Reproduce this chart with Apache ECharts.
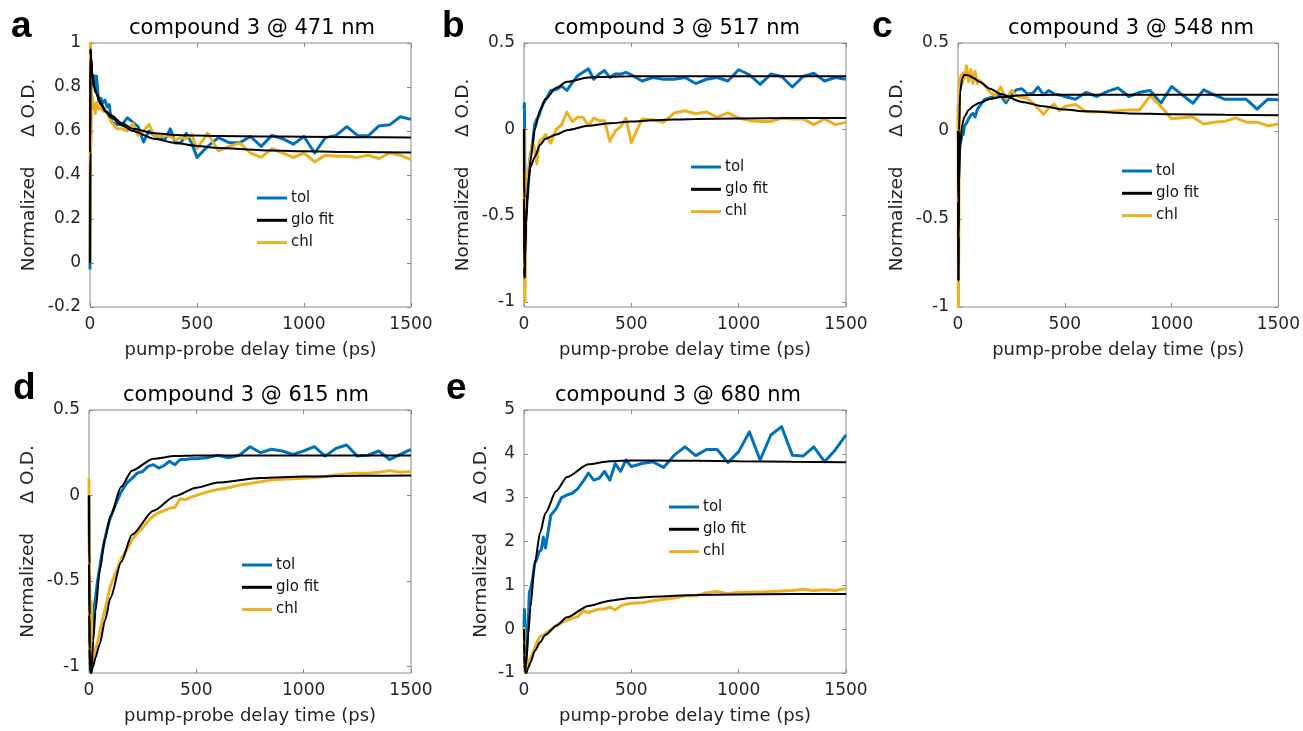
<!DOCTYPE html>
<html>
<head>
<meta charset="utf-8">
<script src="https://cdn.jsdelivr.net/npm/echarts@6/dist/echarts.min.js"></script>
<style>html,body{margin:0;padding:0;background:#fff;}#chart{width:1303px;height:731px;}</style>
</head>
<body>
<div id="chart"></div>
<script>
// ---------- DATA ----------
// delay times (ps) of the measured traces
const T = [0,2,4,6,8,10,15,20,25,30,40,50,60,70,80,90,100,
  125,150,175,200,225,250,275,300,325,350,375,400,425,450,475,500,
  550,600,650,700,750,800,850,900,950,1000,1050,1100,1150,1200,1250,1300,1350,1400,1450,1500];
// delay times (ps) of the global-fit curves
const TF = [0,1,2,3,5,10,20,30,50,75,100,150,200,300,400,500,600,800,1000,1250,1500];

const panelTitles = ['compound 3 @ 471 nm','compound 3 @ 517 nm','compound 3 @ 548 nm','compound 3 @ 615 nm','compound 3 @ 680 nm'];
const panelLetters = ['a','b','c','d','e'];
const legendNames = ['tol','glo fit','chl'];
const xTicks = [0,500,1000,1500];
const yTicksA = [-0.2,0,0.2,0.4,0.6,0.8,1];
const yTicksB = [-1,-0.5,0,0.5];
const yTicksC = [-1,-0.5,0,0.5];
const yTicksD = [-1,-0.5,0,0.5];
const yTicksE = [-1,0,1,2,3,4,5];

// (a) 471 nm
const a_tol = [-0.03,0.4,0.93,0.9,0.82,0.86,0.8,0.85,0.78,0.85,0.74,0.75,0.73,0.74,0.71,0.72,0.64,
  0.63,0.63,0.66,0.64,0.62,0.55,0.60,0.58,0.57,0.56,0.61,0.545,0.545,0.59,0.545,0.48,
  0.53,0.57,0.547,0.547,0.575,0.53,0.58,0.565,0.54,0.575,0.50,0.57,0.58,0.62,0.58,0.578,0.623,0.628,0.665,0.653];
const a_chl = [0.0,1.0,0.53,0.8,0.72,0.76,0.70,0.72,0.68,0.73,0.70,0.71,0.69,0.70,0.68,0.66,0.64,
  0.61,0.61,0.60,0.635,0.58,0.60,0.63,0.58,0.575,0.58,0.575,0.56,0.57,0.565,0.585,0.52,
  0.59,0.51,0.53,0.545,0.50,0.48,0.52,0.50,0.48,0.50,0.46,0.49,0.485,0.485,0.48,0.49,0.475,0.50,0.49,0.47];
const a_fit_tol = [0,0.5,0.95,0.97,0.93,0.86,0.80,0.77,0.73,0.69,0.67,0.635,0.61,0.59,0.582,0.579,0.577,0.575,0.574,0.572,0.571];
const a_fit_chl = [0,0.5,0.95,0.97,0.93,0.86,0.80,0.77,0.72,0.685,0.66,0.625,0.60,0.565,0.545,0.532,0.523,0.513,0.508,0.504,0.502];

// (b) 517 nm
const b_tol = [0.12,0.15,-0.3,-0.55,-0.45,-0.35,-0.4,-0.33,-0.2,-0.15,-0.08,0.03,0.06,0.08,0.12,0.15,0.17,
  0.225,0.23,0.25,0.225,0.27,0.31,0.33,0.35,0.29,0.32,0.34,0.30,0.32,0.32,0.33,0.316,
  0.28,0.30,0.29,0.29,0.30,0.265,0.29,0.30,0.28,0.345,0.316,0.26,0.32,0.306,0.245,0.306,0.325,0.28,0.30,0.29];
const b_chl = [0.0,-0.7,-1.0,-0.85,-0.6,-0.4,-0.25,-0.27,-0.2,-0.16,-0.07,-0.12,-0.2,-0.08,-0.06,-0.05,-0.03,
  -0.08,0.0,0.025,0.10,0.045,0.07,0.07,0.02,0.065,0.05,0.05,-0.07,-0.01,0.015,0.065,-0.077,
  0.06,0.055,0.04,0.095,0.107,0.09,0.10,0.07,0.095,0.065,0.05,0.045,0.045,0.065,0.06,0.06,0.027,0.06,0.027,0.04];
const b_fit_tol = [0,-0.4,-0.8,-0.86,-0.75,-0.55,-0.32,-0.18,0.0,0.11,0.175,0.24,0.275,0.30,0.305,0.307,0.308,0.308,0.308,0.308,0.308];
const b_fit_chl = [0,-0.4,-0.8,-0.86,-0.7,-0.5,-0.3,-0.22,-0.16,-0.09,-0.055,-0.03,-0.005,0.02,0.035,0.045,0.052,0.06,0.063,0.065,0.065];

// (c) 548 nm
const c_tol = [0.0,-0.05,-0.2,-0.15,-0.1,-0.08,-0.05,0.0,-0.02,0.03,0.045,0.07,0.09,0.10,0.08,0.12,0.14,
  0.18,0.19,0.20,0.20,0.16,0.21,0.235,0.24,0.21,0.215,0.25,0.205,0.23,0.21,0.205,0.196,
  0.18,0.22,0.196,0.225,0.244,0.196,0.22,0.23,0.158,0.253,0.205,0.158,0.234,0.205,0.18,0.18,0.18,0.124,0.18,0.177];
const c_chl = [0.15,-1.0,-0.5,0.2,0.3,0.28,0.32,0.27,0.33,0.30,0.37,0.28,0.35,0.27,0.34,0.27,0.29,
  0.26,0.22,0.20,0.25,0.18,0.23,0.20,0.19,0.185,0.16,0.13,0.095,0.13,0.15,0.115,0.14,
  0.15,0.11,0.11,0.11,0.115,0.12,0.12,0.20,0.14,0.07,0.075,0.08,0.04,0.05,0.055,0.075,0.05,0.05,0.03,0.04];
const c_fit_tol = [0,-0.4,-0.85,-0.6,-0.3,-0.08,0.04,0.08,0.12,0.145,0.16,0.182,0.193,0.203,0.205,0.206,0.206,0.206,0.206,0.206,0.206];
const c_fit_chl = [0,-0.4,-0.85,-0.6,0.0,0.22,0.30,0.32,0.315,0.30,0.28,0.24,0.21,0.165,0.14,0.122,0.112,0.10,0.095,0.092,0.09];

// (d) 615 nm
const d_tol = [0.0,-0.3,-0.8,-1.0,-1.02,-0.98,-0.85,-0.75,-0.65,-0.6,-0.5,-0.42,-0.34,-0.28,-0.22,-0.17,-0.13,
  -0.05,0.02,0.07,0.10,0.13,0.14,0.17,0.18,0.16,0.175,0.20,0.18,0.21,0.21,0.215,0.215,
  0.22,0.235,0.22,0.235,0.285,0.25,0.27,0.26,0.24,0.26,0.285,0.23,0.275,0.295,0.23,0.235,0.26,0.21,0.24,0.27];
const d_chl = [0.1,-0.4,-0.85,-1.0,-0.7,-0.62,-1.0,-0.98,-0.93,-0.9,-0.86,-0.8,-0.74,-0.69,-0.64,-0.58,-0.53,
  -0.45,-0.37,-0.32,-0.26,-0.22,-0.19,-0.15,-0.12,-0.10,-0.09,-0.075,-0.07,-0.02,-0.025,-0.01,0.0,
  0.02,0.035,0.045,0.06,0.07,0.08,0.09,0.095,0.098,0.10,0.105,0.11,0.12,0.125,0.13,0.13,0.135,0.145,0.135,0.14];
const d_fit_tol = [0,-0.4,-0.7,-0.9,-1.0,-1.04,-0.85,-0.68,-0.44,-0.25,-0.12,0.05,0.145,0.215,0.23,0.233,0.233,0.233,0.233,0.233,0.233];
const d_fit_chl = [0,-0.4,-0.7,-0.9,-1.0,-1.04,-1.0,-0.95,-0.87,-0.73,-0.6,-0.39,-0.23,-0.09,-0.005,0.045,0.075,0.102,0.11,0.115,0.117];

// (e) 680 nm
const e_tol = [0.0,0.45,0.1,-0.5,-0.9,-0.6,-0.3,0.2,0.85,0.9,1.15,1.5,1.6,1.77,1.8,2.1,1.85,
  2.6,2.75,3.0,3.06,3.1,3.2,3.37,3.56,3.4,3.44,3.6,3.4,3.78,3.6,3.86,3.71,
  3.78,3.82,3.69,3.97,4.16,3.96,4.1,4.1,3.8,4.05,4.5,3.86,4.43,4.62,3.97,3.95,4.16,3.82,4.09,4.43];
const e_chl = [0.05,-0.3,-0.8,-1.0,-0.98,-0.95,-0.85,-0.8,-0.72,-0.68,-0.55,-0.42,-0.3,-0.2,-0.15,-0.14,-0.1,
  -0.02,0.08,0.15,0.2,0.25,0.28,0.42,0.38,0.42,0.46,0.46,0.5,0.44,0.53,0.57,0.59,
  0.6,0.65,0.68,0.71,0.76,0.76,0.83,0.86,0.81,0.84,0.84,0.85,0.86,0.87,0.88,0.91,0.88,0.9,0.88,0.93];
const e_fit_tol = [0,-0.3,-0.6,-0.8,-0.95,-0.8,-0.1,0.5,1.5,2.2,2.65,3.15,3.47,3.76,3.83,3.85,3.85,3.84,3.83,3.82,3.81];
const e_fit_chl = [0,-0.3,-0.6,-0.8,-0.95,-1.0,-0.88,-0.76,-0.5,-0.3,-0.13,0.08,0.27,0.53,0.65,0.71,0.74,0.78,0.79,0.8,0.8];

// ---------- LAYOUT / STYLE ----------
const BLUE = '#0072BD', YELLOW = '#EDB120', BLACK = '#000000';
const BOX = '#8a8a8a', LABEL = '#262626';
const FONT = 'DejaVu Sans';

const panels = [
  {grid:{left:90, top:43, width:321, height:264}, ymin:-0.2, ymax:1, yt:yTicksA, tol:a_tol, chl:a_chl, ft:a_fit_tol, fc:a_fit_chl,
   nameGap:51, legend:{left:257, top:189}, title:{x:252, y:28.5}, letter:{x:11, y:27}},
  {grid:{left:524, top:43, width:322, height:264}, ymin:-1.03, ymax:0.5, yt:yTicksB, tol:b_tol, chl:b_chl, ft:b_fit_tol, fc:b_fit_chl,
   nameGap:51, legend:{left:691, top:158}, title:{x:677, y:28.5}, letter:{x:442, y:27}},
  {grid:{left:958, top:43, width:321, height:264}, ymin:-1, ymax:0.5, yt:yTicksC, tol:c_tol, chl:c_chl, ft:c_fit_tol, fc:c_fit_chl,
   nameGap:51, legend:{left:1122, top:162}, title:{x:1131, y:28.5}, letter:{x:872, y:27}},
  {grid:{left:89, top:410, width:322, height:263}, ymin:-1.04, ymax:0.5, yt:yTicksD, tol:d_tol, chl:d_chl, ft:d_fit_tol, fc:d_fit_chl,
   nameGap:51, legend:{left:242, top:556}, title:{x:246, y:395.5}, letter:{x:13, y:389}},
  {grid:{left:524, top:410, width:322, height:263}, ymin:-1, ymax:5, yt:yTicksE, tol:e_tol, chl:e_chl, ft:e_fit_tol, fc:e_fit_chl,
   nameGap:33, legend:{left:669, top:498}, title:{x:678, y:396}, letter:{x:446, y:389}}
];

const zip = (xs, ys) => xs.map((x, i) => [x, ys[i]]);
const plain = v => String(Math.round(v * 1000) / 1000);

const grids = [], xAxes = [], yAxes = [], series = [], legends = [], graphics = [];
panels.forEach((p, i) => {
  grids.push(Object.assign({show:true, borderColor:BOX, borderWidth:1, backgroundColor:'#fff', containLabel:false}, p.grid));
  const tickStyle = {show:true, inside:true, length:4, lineStyle:{color:BOX, width:1}};
  const xTick = Object.assign({}, tickStyle, {customValues:xTicks});
  // bottom x
  xAxes.push({type:'value', gridIndex:i, min:0, max:1500, position:'bottom',
    axisLine:{show:false, onZero:false}, splitLine:{show:false}, axisTick:xTick,
    axisLabel:{customValues:xTicks, formatter:plain, color:LABEL, fontSize:17, fontFamily:FONT, margin:9},
    name:'pump-probe delay time (ps)', nameLocation:'middle', nameGap:34,
    nameTextStyle:{color:LABEL, fontSize:18, fontFamily:FONT}});
  // top x (mirror ticks)
  xAxes.push({type:'value', gridIndex:i, min:0, max:1500, position:'top',
    axisLine:{show:false, onZero:false}, splitLine:{show:false}, axisTick:xTick, axisLabel:{show:false}});
  const yBase = {type:'value', gridIndex:i, min:p.ymin, max:p.ymax, axisLine:{show:false, onZero:false}, splitLine:{show:false}};
  const tick = Object.assign({}, tickStyle, {customValues:p.yt});
  yAxes.push(Object.assign({}, yBase, {position:'left', axisTick:tick,
    axisLabel:{customValues:p.yt, formatter:plain, color:LABEL, fontSize:17, fontFamily:FONT, margin:9},
    name:'Normalized     \u0394 O.D.', nameLocation:'middle', nameRotate:90, nameGap:p.nameGap,
    nameTextStyle:{color:LABEL, fontSize:18.5, fontFamily:FONT}}));
  yAxes.push(Object.assign({}, yBase, {position:'right', axisTick:tick, axisLabel:{show:false}}));

  const common = {type:'line', xAxisIndex:2*i, yAxisIndex:2*i, showSymbol:false, symbol:'none', clip:true, animation:false};
  series.push(Object.assign({}, common, {name:'tol', data:zip(T, p.tol), z:2,
    lineStyle:{color:BLUE, width:3, join:'round'}, itemStyle:{color:BLUE}}));
  series.push(Object.assign({}, common, {name:'chl', data:zip(T, p.chl), z:3,
    lineStyle:{color:YELLOW, width:3, join:'round'}, itemStyle:{color:YELLOW}}));
  series.push(Object.assign({}, common, {name:'glo fit', data:zip(TF, p.ft), z:4, smooth:0.25, smoothMonotone:'x',
    lineStyle:{color:BLACK, width:2}, itemStyle:{color:BLACK}}));
  series.push(Object.assign({}, common, {name:'glo fit', data:zip(TF, p.fc), z:4, smooth:0.25, smoothMonotone:'x',
    lineStyle:{color:BLACK, width:2}, itemStyle:{color:BLACK}}));

  legends.push({data:legendNames, orient:'vertical', left:p.legend.left, top:p.legend.top, padding:0,
    icon:'rect', itemWidth:30, itemHeight:3, itemGap:4.3, selectedMode:false,
    textStyle:{color:'#111', fontSize:15, fontFamily:FONT, lineHeight:18, padding:[0,0,0,-1]}});

  graphics.push({type:'text', x:p.title.x, y:p.title.y, silent:true,
    style:{text:panelTitles[i], font:'21px "DejaVu Sans"', fill:'#000', textAlign:'center', textVerticalAlign:'middle'}});
  graphics.push({type:'text', x:p.letter.x, y:p.letter.y, silent:true,
    style:{text:panelLetters[i], font:'bold 37px "Liberation Sans"', fill:'#000', textAlign:'left', textVerticalAlign:'middle'}});
});

const chart = echarts.init(document.getElementById('chart'), null, {renderer:'canvas'});
chart.setOption({
  animation:false,
  backgroundColor:'#fff',
  grid:grids, xAxis:xAxes, yAxis:yAxes, series:series, legend:legends, graphic:graphics
});
</script>
</body>
</html>
